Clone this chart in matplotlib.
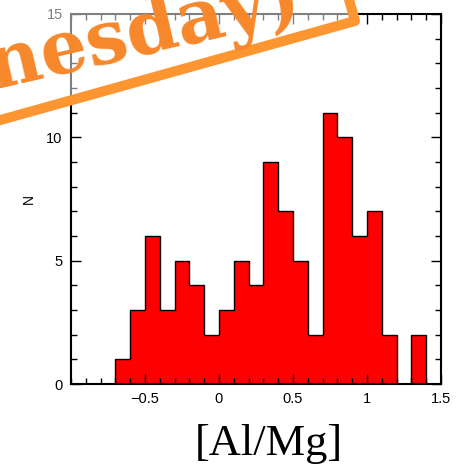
import numpy as np
import matplotlib
matplotlib.use("Agg")
from matplotlib import pyplot as plt
from matplotlib import patches, transforms

# histogram of [Al/Mg], bins of 0.1 starting at -0.7
bin_edges = [-0.7, -0.6, -0.5, -0.4, -0.3, -0.2, -0.1, 0.0, 0.1, 0.2, 0.3,
             0.4, 0.5, 0.6, 0.7, 0.8, 0.9, 1.0, 1.1, 1.2, 1.3, 1.4]
counts = [1, 3, 6, 3, 5, 4, 2, 3, 5, 4, 9, 7, 5, 2, 11, 10, 6, 7, 2, 0, 2]

x_ticks = [-0.5, 0, 0.5, 1, 1.5]
x_tick_labels = ['\u22120.5', '0', '0.5', '1', '1.5']
y_ticks = [0, 5, 10, 15]
stamp_text = '(Wednesday)'

plt.rcParams['font.family'] = ['Liberation Sans', 'DejaVu Sans']

fig = plt.figure(figsize=(4.62, 4.70), dpi=100)
ax = fig.add_axes([71 / 462, 1 - 384 / 470, 370 / 462, 370 / 470])

ax.stairs(counts, bin_edges, fill=True, facecolor='#ff0000', edgecolor='black', linewidth=1.0)

ax.set_xlim(-1, 1.5)
ax.set_ylim(0, 15)
ax.set_xticks(x_ticks)
ax.set_xticklabels(x_tick_labels)
ax.set_yticks(y_ticks)
ax.set_xticks(np.arange(-1, 1.51, 0.1), minor=True)
ax.set_yticks(np.arange(0, 15.1, 1), minor=True)
ax.tick_params(which='both', direction='in', top=True, right=True, width=1.0, labelsize=10.5)
ax.tick_params(which='major', length=7, pad=6)
ax.tick_params(which='minor', length=4)
for sp in ax.spines.values():
    sp.set_linewidth(1.5)

ax.set_ylabel('N', fontsize=10)
ax.yaxis.set_label_coords(-0.095, 0.5)
ax.set_xlabel('[Al/Mg]', fontsize=32, family=['Liberation Serif', 'DejaVu Serif'])
ax.xaxis.set_label_coords(0.535, -0.108)

# rotated stamp over the top-left corner (pixel coordinates, y up)
box_rot = transforms.Affine2D().rotate_deg(15.6).translate(355, 449)
box = patches.Rectangle((-800, 0), 800, 140, transform=box_rot, facecolor=(1, 1, 1, 0.5),
                        edgecolor='#fd9530', linewidth=7.2, joinstyle='round', zorder=5)
fig.add_artist(box)
fig.text(304, 453, stamp_text, transform=transforms.IdentityTransform(), rotation=13,
         rotation_mode='anchor', ha='right', va='baseline', fontsize=53, fontweight='bold',
         family=['DejaVu Serif'], color='#f7872a', zorder=6)

fig.savefig('out.png', dpi=100)
